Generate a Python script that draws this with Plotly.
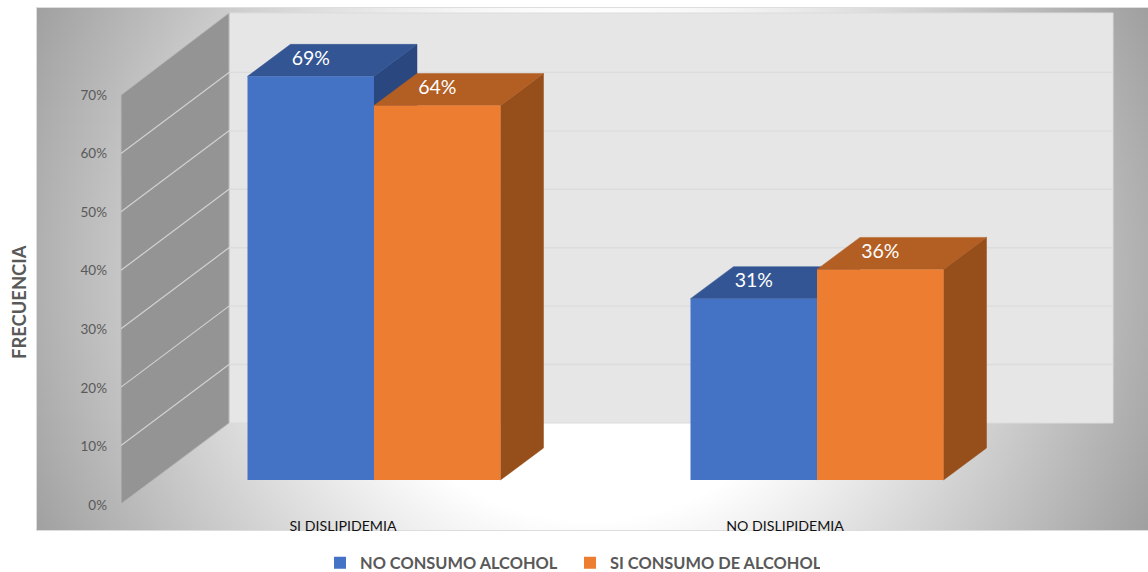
import plotly.graph_objects as go

categories = ["SI DISLIPIDEMIA", "NO DISLIPIDEMIA"]
no_consumo = [69, 31]
si_consumo = [64, 36]
series_names = ["NO CONSUMO ALCOHOL", "SI CONSUMO DE ALCOHOL"]
y_ticks = [0, 10, 20, 30, 40, 50, 60, 70]
y_ticktext = ["0%", "10%", "20%", "30%", "40%", "50%", "60%", "70%"]

W, H = 1148, 572
L, R, T, B = 37, 1148, 8, 530
FONT = "Lato"


def X(px):  # pixel -> category scale
    return (px - 374) / 443


def Y(py):  # pixel -> value scale of the front plane
    return (480 - py) / 5.85


def Y4(py):  # pixel -> value scale of the wall axis labels
    return (505 - py) / 5.857


def poly(pts):
    xs = [X(p[0]) for p in pts] + [X(pts[0][0])]
    ys = [Y(p[1]) for p in pts] + [Y(pts[0][1])]
    return xs, ys


xr = [X(L), X(R)]
yr = [Y(B), Y(T)]
fig = go.Figure()


def area(pts, color, xa="x", ya="y", line=None):
    xs, ys = poly(pts)
    fig.add_trace(go.Scatter(x=xs, y=ys, xaxis=xa, yaxis=ya, mode="lines", fill="toself",
                             fillcolor=color, line=dict(color=line or color, width=1),
                             hoverinfo="skip", showlegend=False))


# background radial gradient
cx, cy, s = 590, 270, 650
gx, gy = poly([(cx - s, cy - s), (cx + s, cy - s), (cx + s, cy + s), (cx - s, cy + s)])
fig.add_trace(go.Scatter(x=gx, y=gy, mode="lines", fill="toself", line=dict(width=0),
                         fillgradient=dict(type="radial",
                                           colorscale=[[0, "#ffffff"], [0.385, "#ffffff"],
                                                       [0.943, "#a0a0a0"], [1, "#969696"]]),
                         hoverinfo="skip", showlegend=False))

# walls
area([(229, 13), (1113, 13), (1113, 423), (229, 423)], "#e6e6e6", line="#dcdcdc")
area([(121, 95), (229, 13), (229, 423), (121, 504)], "#949494", line="#b8b8b8")

# gridlines
bx, by, lx, ly = [], [], [], []
for v in y_ticks[1:-1]:
    p_front = 504 - 5.843 * v
    p_back = p_front - 81
    bx += [X(229), X(1113), None]
    by += [Y(p_back), Y(p_back), None]
    lx += [X(121), X(229), None]
    ly += [Y(p_front), Y(p_back), None]
fig.add_trace(go.Scatter(x=bx, y=by, mode="lines", line=dict(color="#dcdcdc", width=1.4),
                         hoverinfo="skip", showlegend=False))
fig.add_trace(go.Scatter(x=lx, y=ly, mode="lines", line=dict(color="#d2d2d2", width=1.2),
                         hoverinfo="skip", showlegend=False))

# 3D faces of the bars
BW = 126.5 / 443
DX, DY = 43 / 443, 32 / 5.85
faces = [(no_consumo, -BW, "#335593", "#2a4780"), (si_consumo, 0.0, "#b35e23", "#964f1b")]
for vals, off, top, side in faces:
    for i, v in enumerate(vals):
        x0, x1 = i + off, i + off + BW
        for xs, ys, c in [
            ([x1, x1 + DX, x1 + DX, x1, x1], [0, DY, v + DY, v, 0], side),
            ([x0, x1, x1 + DX, x0 + DX, x0], [v, v, v + DY, v + DY, v], top),
        ]:
            fig.add_trace(go.Scatter(x=xs, y=ys, xaxis="x2", yaxis="y2", mode="lines", fill="toself",
                                     fillcolor=c, line=dict(color=c, width=0.5),
                                     hoverinfo="skip", showlegend=False))

# front faces
for name, vals, color in [(series_names[0], no_consumo, "#4472c4"), (series_names[1], si_consumo, "#ed7d31")]:
    fig.add_trace(go.Bar(x=[0, 1], y=vals, name=name, marker=dict(color=color, line=dict(width=0)),
                         xaxis="x3", yaxis="y3", hoverinfo="skip"))

# data labels on the top faces
for vals, off in [(no_consumo, -BW / 2), (si_consumo, BW / 2)]:
    fig.add_trace(go.Scatter(x=[i + off for i in range(2)], y=[v + 16.5 / 5.85 for v in vals],
                             text=[f"{v}%" for v in vals], mode="text", xaxis="x2", yaxis="y2",
                             textfont=dict(family=FONT, size=19.5, color="#ffffff"),
                             hoverinfo="skip", showlegend=False))

# wall value axis and category labels
fig.add_trace(go.Scatter(x=[None], y=[None], xaxis="x4", yaxis="y4", showlegend=False, hoverinfo="skip"))

hidden = dict(range=xr, visible=False, fixedrange=True)
fig.update_layout(
    width=W, height=H, autosize=False,
    margin=dict(l=L, r=W - R, t=T, b=H - B, pad=0, autoexpand=False),
    paper_bgcolor="#ffffff", plot_bgcolor="#ffffff",
    barmode="group", bargap=1 - 2 * BW, bargroupgap=0,
    showlegend=True,
    legend=dict(orientation="h", x=(320 - L) / (R - L), xanchor="left", y=(B - 563) / (B - T), yanchor="middle",
                font=dict(family=FONT, size=16.4, color="#595959", weight="bold"),
                entrywidth=205, entrywidthmode="pixels", traceorder="normal",
                bgcolor="rgba(0,0,0,0)"),
    xaxis=dict(range=xr, showticklabels=False, ticks="", showgrid=False, zeroline=False,
               showline=True, linecolor="#dddddd", linewidth=1, mirror=True, fixedrange=True),
    yaxis=dict(range=yr, visible=True, showticklabels=False, ticks="", showgrid=False, zeroline=False,
               showline=True, linecolor="#dddddd", linewidth=1, mirror=True, fixedrange=True),
    xaxis2=dict(overlaying="x", anchor="y2", **hidden),
    yaxis2=dict(overlaying="y", anchor="x2", range=yr, visible=False, fixedrange=True),
    xaxis3=dict(overlaying="x", anchor="y3", **hidden),
    yaxis3=dict(overlaying="y", anchor="x3", range=yr, visible=False, fixedrange=True),
    xaxis4=dict(overlaying="x", anchor="free", position=(B - 516) / (B - T), side="bottom", range=xr,
                tickmode="array", tickvals=[X(343), X(785)], ticktext=categories, ticks="",
                showgrid=False, zeroline=False, showline=False,
                tickfont=dict(family=FONT, size=14.2, color="#111111"), fixedrange=True),
    yaxis4=dict(overlaying="y", anchor="free", position=(107 - L) / (R - L), side="left",
                range=[Y4(B), Y4(T)], tickmode="array", tickvals=y_ticks, ticktext=y_ticktext,
                showgrid=False, zeroline=False, showline=False, ticks="",
                tickfont=dict(family=FONT, size=13.5, color="#595959"), fixedrange=True),
    annotations=[dict(text="FRECUENCIA", textangle=-90, xref="paper", yref="paper",
                      x=(19 - L) / (R - L), y=(B - 302) / (B - T), xanchor="center", yanchor="middle",
                      showarrow=False, font=dict(family=FONT, size=18.4, color="#595959", weight="bold"))],
)
fig.write_html("out.html", config=dict(displayModeBar=False),
               post_script="document.body.style.margin='0';document.body.style.overflow='hidden';")
